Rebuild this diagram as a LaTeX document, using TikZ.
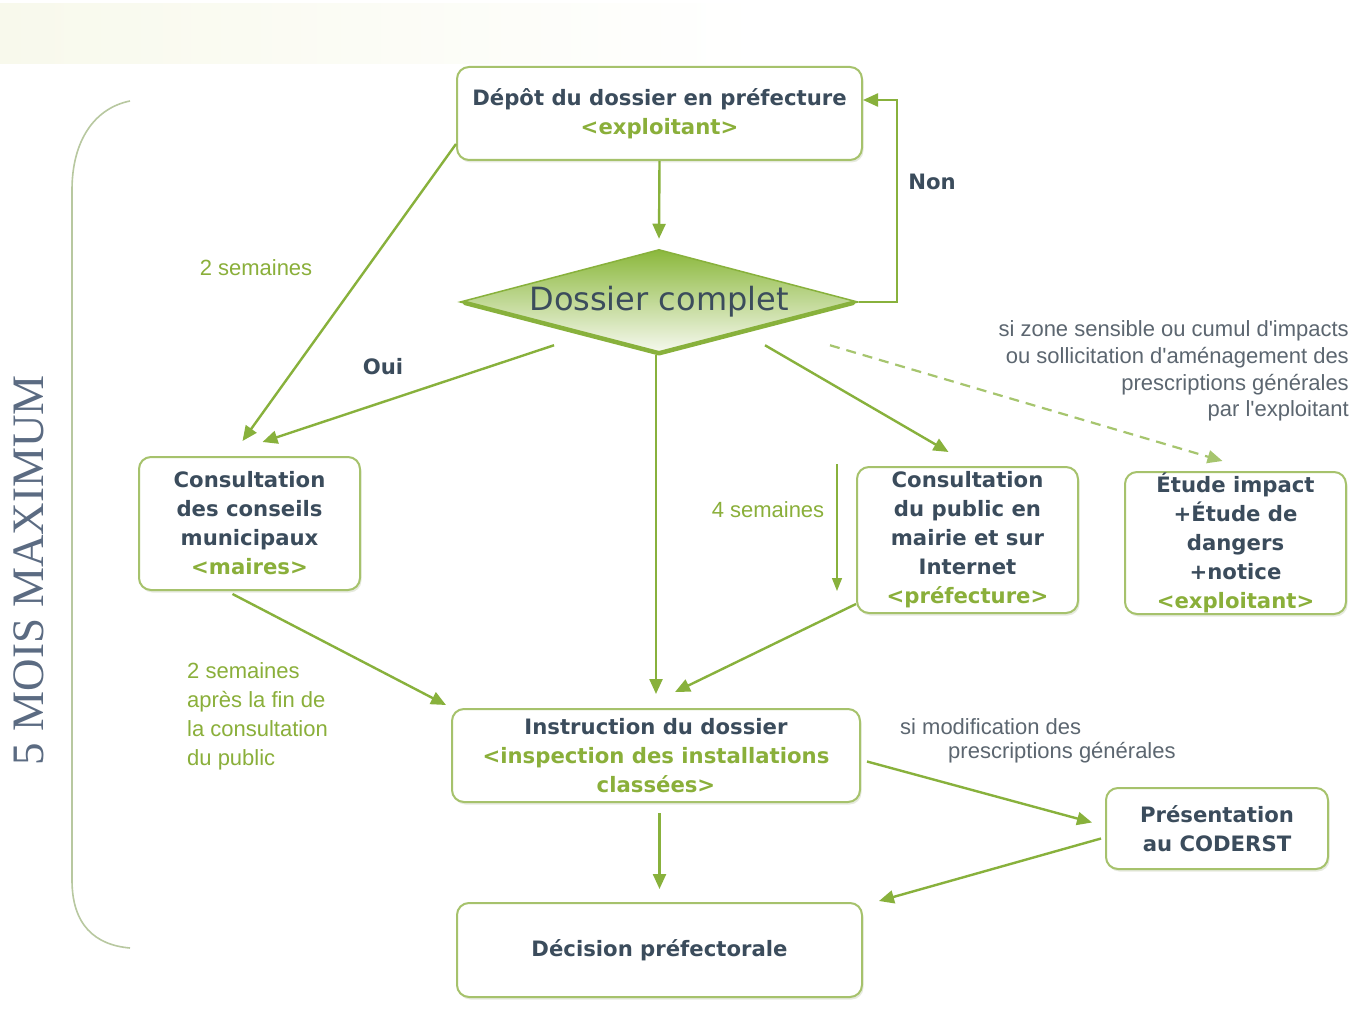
\documentclass[tikz,border=0pt]{standalone}
\usepackage{fontspec}
\setmainfont{DejaVu Sans}
\newfontfamily\moisfont{Liberation Serif}
\newfontfamily\labfont{Liberation Sans}
\usetikzlibrary{arrows.meta,calc,shapes.geometric,shadows}
\definecolor{boxgreen}{HTML}{A6C26C}
\definecolor{arrowgreen}{HTML}{88B13C}
\definecolor{dashgreen}{HTML}{A6C56E}
\definecolor{darktext}{HTML}{3B4C5C}
\definecolor{greentext}{HTML}{8AAF3A}
\definecolor{greytext}{HTML}{5C6670}
\definecolor{bracecol}{HTML}{B8C8A0}
\definecolor{moiscol}{HTML}{5B6B82}
\definecolor{topband}{HTML}{F8F9EC}
\definecolor{shadowc}{HTML}{C9D2B8}
\definecolor{diamtop}{HTML}{8BB83C}
\definecolor{diammid}{HTML}{D3E3B3}
\definecolor{diambot}{HTML}{F8FAF2}
\newcommand\bxfont{\fontsize{21.2}{29}\selectfont\bfseries}
\newcommand\gtx[1]{{\color{greentext}#1}}
\begin{document}
\begin{tikzpicture}[x=1pt,y=-1pt,
  box/.style={draw=boxgreen, line width=2pt, rounded corners=12pt, fill=white,
    align=center, font=\bxfont, text=darktext, inner sep=0pt,
    drop shadow={shadow xshift=1.5pt,shadow yshift=-2.5pt,opacity=0.45,fill=shadowc}},
  arr/.style={draw=arrowgreen, line width=2.4pt, -{Triangle[length=15pt,width=13pt]}},
  thinarr/.style={draw=arrowgreen, line width=1.4pt, -{Triangle[length=13pt,width=10pt]}},
  dasharr/.style={draw=dashgreen, line width=2.2pt, dash pattern=on 10pt off 7pt, -{Triangle[length=15pt,width=13pt]}},
  lab/.style={font={\labfont\fontsize{22}{29}\selectfont}, text=greentext, inner sep=0pt},
  greylab/.style={font={\labfont\fontsize{22}{26.7}\selectfont}, text=greytext, inner sep=0pt},
  boldlab/.style={font=\bxfont, text=darktext, inner sep=0pt}
]
\useasboundingbox (0,0) rectangle (1360,1014);
\fill[white] (0,0) rectangle (1360,1014);
\shade[left color=topband, right color=white] (0,4) rectangle (760,64);

% brace
\draw[bracecol, line width=1.6pt] (130,101) .. controls (95,108) and (72,140) .. (72,190)
  -- (72,880) .. controls (72,925) and (95,945) .. (130,948);
\node[rotate=90, font={\moisfont\fontsize{45}{50}\selectfont}, text=moiscol, inner sep=0pt] (mois) at (29,570) {5 MOIS MAXIMUM};

% boxes
\node[box, minimum width=405pt, minimum height=93pt] (depot) at (659.5,113.5)
  {Dépôt du dossier en préfecture\\\gtx{<exploitant>}};
\node[diamond, aspect=3.8, minimum width=398pt, minimum height=105pt, inner sep=0pt,
  draw=arrowgreen, line width=1.5pt, top color=diamtop, middle color=diammid, bottom color=diambot,
  font={\fontsize{32}{36}\selectfont}, text=darktext] (diam) at (659,302) {Dossier complet};
\draw[arrowgreen, line width=4.5pt, line join=round, line cap=round]
  ($(diam.west)+(6,1)$) -- ($(diam.south)+(0,-2)$) -- ($(diam.east)+(-6,1)$);
\node[box, minimum width=221pt, minimum height=133pt] (conseils) at (249.5,523.5)
  {Consultation\\des conseils\\municipaux\\\gtx{<maires>}};
\node[box, minimum width=221pt, minimum height=146pt] (public) at (967.5,540)
  {Consultation\\du public en\\mairie et sur\\Internet\\\gtx{<préfecture>}};
\node[box, minimum width=221pt, minimum height=142pt] (etude) at (1235.5,543)
  {Étude impact\\+Étude de\\dangers\\+notice\\\gtx{<exploitant>}};
\node[box, minimum width=408pt, minimum height=93pt] (instr) at (656,755.5)
  {Instruction du dossier\\\gtx{<inspection des installations}\\\gtx{classées>}};
\node[box, minimum width=222pt, minimum height=81pt] (pres) at (1217,828.5)
  {Présentation\\au CODERST};
\node[box, minimum width=405pt, minimum height=94pt] (decision) at (659.5,950)
  {Décision préfectorale};

% labels
\node[boldlab] (non) at (932,182) {Non};
\node[boldlab] (oui) at (383,367) {Oui};
\node[lab] (l2s) at (256,268) {2 semaines};
\node[lab] (l4s) at (768,510) {4 semaines};
\node[lab, anchor=west, align=left] (l2sa) at (187,716.5)
  {2 semaines\\après la fin de\\la consultation\\du public};
\node[greylab, anchor=east, align=right] (zone) at (1349,371)
  {si zone sensible ou cumul d'impacts\\ou sollicitation d'aménagement des\\prescriptions générales\\par l'exploitant};
\node[greylab, anchor=west] (modif1) at (900,727) {si modification des};
\node[greylab, anchor=west] (modif2) at (948,753) {prescriptions générales};

% connectors
\draw[arr] (depot.south) -- ($(diam.north)+(0,-10)$);
\draw[arr] (diam.east) -- ++(38,0) |- ($(depot.north east)+(0,34)$);
\draw[arr] ($(depot.south west)+(0,-17)$) -- ($(conseils.north)+(-7,-15)$);
\draw[arr] ($(diam.south)+(-105,-10)$) -- ($(conseils.north)+(13,-14)$);
\draw[arr] (diam.south -| instr.north) -- ($(instr.north)+(0,-14)$);
\draw[arr] ($(diam.south)+(106,-10)$) -- ($(public.north)+(-19,-14)$);
\draw[dasharr] ($(diam.south)+(171,-10)$) -- ($(etude.north)+(-13,-10)$);
\draw[thinarr] ($(public.north west)+(-19,-2)$) -- ($(public.south west)+(-19,-23)$);
\draw[arr] ($(public.south west)+(0,-10)$) -- ($(instr.north)+(19,-16)$);
\draw[arr] ($(conseils.south)+(-17,3)$) -- ($(instr.north west)+(-5,-3)$);
\draw[arr] ($(instr.south -| decision.north)+(0,10)$) -- ($(decision.north)+(0,-13)$);
\draw[arr] ($(instr.east)+(6,6)$) -- ($(pres.west)+(-13,-6)$);
\draw[arr] ($(pres.west)+(-4,10)$) -- ($(decision.north east)+(16,-1)$);
\end{tikzpicture}
\end{document}
